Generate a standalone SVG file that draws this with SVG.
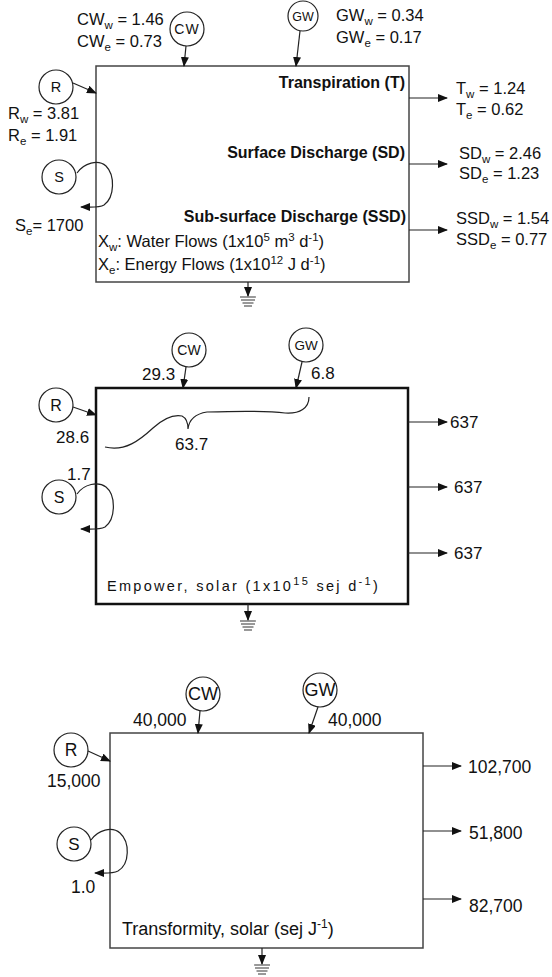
<svg xmlns="http://www.w3.org/2000/svg" width="552" height="977" viewBox="0 0 552 977">
<style>
text{font-family:"Liberation Sans",Arial,sans-serif;fill:#111}
.lbl{font-size:16.5px}
.b{font-size:16px;font-weight:bold}
.num{font-size:17px}
.num3{font-size:17.5px}
.sub{font-size:11.5px}
.node circle{fill:#fff;stroke:#222;stroke-width:1.2}
.box1{fill:none;stroke:#444;stroke-width:1.5}
.box2{fill:none;stroke:#111;stroke-width:2.5}
.ar{fill:none;stroke:#222;stroke-width:1.2;marker-end:url(#ah)}
.gnd{stroke:#555;stroke-width:1.2}
</style>
<defs>
<marker id="ah" markerWidth="10" markerHeight="8" refX="9" refY="4" orient="auto" markerUnits="userSpaceOnUse">
<path d="M0,0 L10,4 L0,8 z" fill="#111"/>
</marker>
</defs>

<!-- ===== Panel 1: water/energy flows ===== -->
<g id="box1">
<rect class="box1" x="96" y="66" width="313" height="216"/>
<text class="b" x="405" y="88" text-anchor="end">Transpiration (T)</text>
<text class="b" x="405" y="158" text-anchor="end">Surface Discharge (SD)</text>
<text class="b" x="406" y="222" text-anchor="end">Sub-surface Discharge (SSD)</text>
<text class="lbl" x="98" y="247">X<tspan class="sub" dy="4">w</tspan><tspan dy="-4">: Water Flows (1x10</tspan><tspan class="sub" dy="-6">5</tspan><tspan dy="6"> m</tspan><tspan class="sub" dy="-6">3</tspan><tspan dy="6"> d</tspan><tspan class="sub" dy="-6">-1</tspan><tspan dy="6">)</tspan></text>
<text class="lbl" x="98" y="270">X<tspan class="sub" dy="4">e</tspan><tspan dy="-4">: Energy Flows (1x10</tspan><tspan class="sub" dy="-6">12</tspan><tspan dy="6"> J d</tspan><tspan class="sub" dy="-6">-1</tspan><tspan dy="6">)</tspan></text>
</g>
<g id="cw1" class="node">
<circle cx="187" cy="29" r="17"/>
<text x="187" y="34" font-size="14" text-anchor="middle" letter-spacing="1">CW</text>
<text class="lbl" x="77" y="25">CW<tspan class="sub" dy="4">w</tspan><tspan dy="-4"> = 1.46</tspan></text>
<text class="lbl" x="77" y="47">CW<tspan class="sub" dy="4">e</tspan><tspan dy="-4"> = 0.73</tspan></text>
</g>
<g id="gw1" class="node">
<circle cx="303" cy="16" r="15"/>
<text x="303" y="21" font-size="12.5" text-anchor="middle">GW</text>
<text class="lbl" x="336" y="21">GW<tspan class="sub" dy="4">w</tspan><tspan dy="-4"> = 0.34</tspan></text>
<text class="lbl" x="336" y="43">GW<tspan class="sub" dy="4">e</tspan><tspan dy="-4"> = 0.17</tspan></text>
</g>
<g id="r1" class="node">
<circle cx="56" cy="87" r="17"/>
<text x="56" y="92" font-size="14.5" text-anchor="middle">R</text>
<text class="lbl" x="8" y="119">R<tspan class="sub" dy="4">w</tspan><tspan dy="-4"> = 3.81</tspan></text>
<text class="lbl" x="8" y="141">R<tspan class="sub" dy="4">e</tspan><tspan dy="-4"> = 1.91</tspan></text>
</g>
<g id="s1" class="node">
<circle cx="59" cy="177" r="17"/>
<text x="59" y="182" font-size="14.5" text-anchor="middle">S</text>
<text class="lbl" x="15" y="231">S<tspan class="sub" dy="4">e</tspan><tspan dy="-4">= 1700</tspan></text>
</g>
<g id="out1">
<text class="lbl" x="456" y="94">T<tspan class="sub" dy="4">w</tspan><tspan dy="-4"> = 1.24</tspan></text>
<text class="lbl" x="456" y="115">T<tspan class="sub" dy="4">e</tspan><tspan dy="-4"> = 0.62</tspan></text>
<text class="lbl" x="459" y="159">SD<tspan class="sub" dy="4">w</tspan><tspan dy="-4"> = 2.46</tspan></text>
<text class="lbl" x="459" y="179">SD<tspan class="sub" dy="4">e</tspan><tspan dy="-4"> = 1.23</tspan></text>
<text class="lbl" x="456" y="224">SSD<tspan class="sub" dy="4">w</tspan><tspan dy="-4"> = 1.54</tspan></text>
<text class="lbl" x="456" y="245">SSD<tspan class="sub" dy="4">e</tspan><tspan dy="-4"> = 0.77</tspan></text>
</g>
<g id="ground1">
<line class="gnd" x1="240" y1="297" x2="256" y2="297"/>
<line class="gnd" x1="241" y1="300" x2="255" y2="300"/>
<line class="gnd" x1="242.5" y1="303" x2="253.5" y2="303"/>
<line class="gnd" x1="244" y1="306" x2="252" y2="306"/>
</g>

<!-- ===== Panel 2: empower ===== -->
<g id="box2">
<rect class="box2" x="96" y="388" width="312" height="216"/>
<text x="107" y="591" font-size="14.5" letter-spacing="2.3">Empower, solar (1x10<tspan font-size="11" dy="-6">15</tspan><tspan dy="6"> sej d</tspan><tspan font-size="11" dy="-6">-1</tspan><tspan dy="6">)</tspan></text>
<text class="num" x="175" y="450">63.7</text>
</g>
<g id="cw2" class="node">
<circle cx="189" cy="350" r="17"/>
<text x="189" y="355" font-size="14" text-anchor="middle">CW</text>
<text class="num" x="142" y="380">29.3</text>
</g>
<g id="gw2" class="node">
<circle cx="306" cy="345" r="17"/>
<text x="306" y="350" font-size="13.5" text-anchor="middle">GW</text>
<text class="num" x="311" y="379">6.8</text>
</g>
<g id="r2" class="node">
<circle cx="56" cy="405" r="17"/>
<text x="56" y="411" font-size="16" text-anchor="middle">R</text>
<text class="num" x="56" y="443">28.6</text>
</g>
<g id="s2" class="node">
<circle cx="59" cy="497" r="17"/>
<text x="59" y="503" font-size="16" text-anchor="middle">S</text>
<text class="num" x="67" y="480">1.7</text>
</g>
<g id="out2">
<text class="num" x="450" y="428">637</text>
<text class="num" x="454" y="493">637</text>
<text class="num" x="454" y="559">637</text>
</g>
<g id="ground2">
<line class="gnd" x1="240" y1="621" x2="256" y2="621"/>
<line class="gnd" x1="241" y1="624" x2="255" y2="624"/>
<line class="gnd" x1="242.5" y1="627" x2="253.5" y2="627"/>
<line class="gnd" x1="244" y1="630" x2="252" y2="630"/>
</g>

<!-- ===== Panel 3: transformity ===== -->
<g id="box3">
<rect class="box1" x="110" y="733" width="313" height="215"/>
<text x="122" y="935" font-size="18">Transformity, solar (sej J<tspan font-size="12" dy="-7">-1</tspan><tspan dy="7">)</tspan></text>
</g>
<g id="cw3" class="node">
<circle cx="203" cy="694" r="17"/>
<text x="203" y="700" font-size="18" text-anchor="middle">CW</text>
<text class="num3" x="133" y="726">40,000</text>
</g>
<g id="gw3" class="node">
<circle cx="320" cy="690" r="17"/>
<text x="320" y="696" font-size="18" text-anchor="middle">GW</text>
<text class="num3" x="328" y="726">40,000</text>
</g>
<g id="r3" class="node">
<circle cx="71" cy="750" r="17"/>
<text x="71" y="756" font-size="17.5" text-anchor="middle">R</text>
<text class="num3" x="47" y="787">15,000</text>
</g>
<g id="s3" class="node">
<circle cx="74" cy="844" r="17"/>
<text x="74" y="850" font-size="17" text-anchor="middle">S</text>
<text class="num3" x="71" y="893">1.0</text>
</g>
<g id="out3">
<text class="num3" x="468" y="773">102,700</text>
<text class="num3" x="469" y="839">51,800</text>
<text class="num3" x="469" y="912">82,700</text>
</g>
<g id="ground3">
<line class="gnd" x1="254" y1="965" x2="270" y2="965"/>
<line class="gnd" x1="255" y1="968" x2="269" y2="968"/>
<line class="gnd" x1="256.5" y1="971" x2="267.5" y2="971"/>
<line class="gnd" x1="258" y1="974" x2="266" y2="974"/>
</g>

<!-- ===== Connectors ===== -->
<g id="connectors">
<!-- panel 1 -->
<line class="ar" x1="186" y1="46" x2="184" y2="66"/>
<line class="ar" x1="300" y1="31" x2="296" y2="66"/>
<line class="ar" x1="73" y1="83" x2="96" y2="93"/>
<path class="ar" d="M77,173 C84,163 98,159 106,166 C115,175 115,197 104,205 C99,208 92,207 81,207"/>
<line class="ar" x1="409" y1="98" x2="447" y2="98"/>
<line class="ar" x1="409" y1="164" x2="447" y2="164"/>
<line class="ar" x1="409" y1="230" x2="447" y2="230"/>
<line class="ar" x1="248" y1="282" x2="248" y2="296"/>
<!-- panel 2 -->
<line class="ar" x1="186" y1="367" x2="183" y2="388"/>
<line class="ar" x1="302" y1="362" x2="296" y2="388"/>
<line class="ar" x1="73" y1="407" x2="96" y2="415"/>
<path fill="none" stroke="#222" stroke-width="1.2" d="M105,447 C125,452 140,440 153,428 C163,419 172,414 182,416 C186,418 188,423 188,429 C189,420 194,414 207,412 C240,411 270,411 285,413 C300,414 309,408 309,397"/>
<path class="ar" d="M77,494 C84,484 98,481 106,487 C116,495 116,519 105,527 C99,530 92,529 81,529"/>
<line class="ar" x1="408" y1="422" x2="447" y2="422"/>
<line class="ar" x1="408" y1="487" x2="447" y2="487"/>
<line class="ar" x1="408" y1="553" x2="447" y2="553"/>
<line class="ar" x1="248" y1="604" x2="248" y2="620"/>
<!-- panel 3 -->
<line class="ar" x1="200" y1="711" x2="198" y2="733"/>
<line class="ar" x1="318" y1="707" x2="309" y2="733"/>
<line class="ar" x1="88" y1="751" x2="110" y2="761"/>
<path class="ar" d="M91,840 C98,830 112,826 120,833 C130,842 130,864 118,871 C112,874 104,873 95,873"/>
<line class="ar" x1="423" y1="766" x2="461" y2="766"/>
<line class="ar" x1="423" y1="831" x2="461" y2="831"/>
<line class="ar" x1="423" y1="899" x2="461" y2="899"/>
<line class="ar" x1="262" y1="948" x2="262" y2="964"/>
</g>
</svg>
